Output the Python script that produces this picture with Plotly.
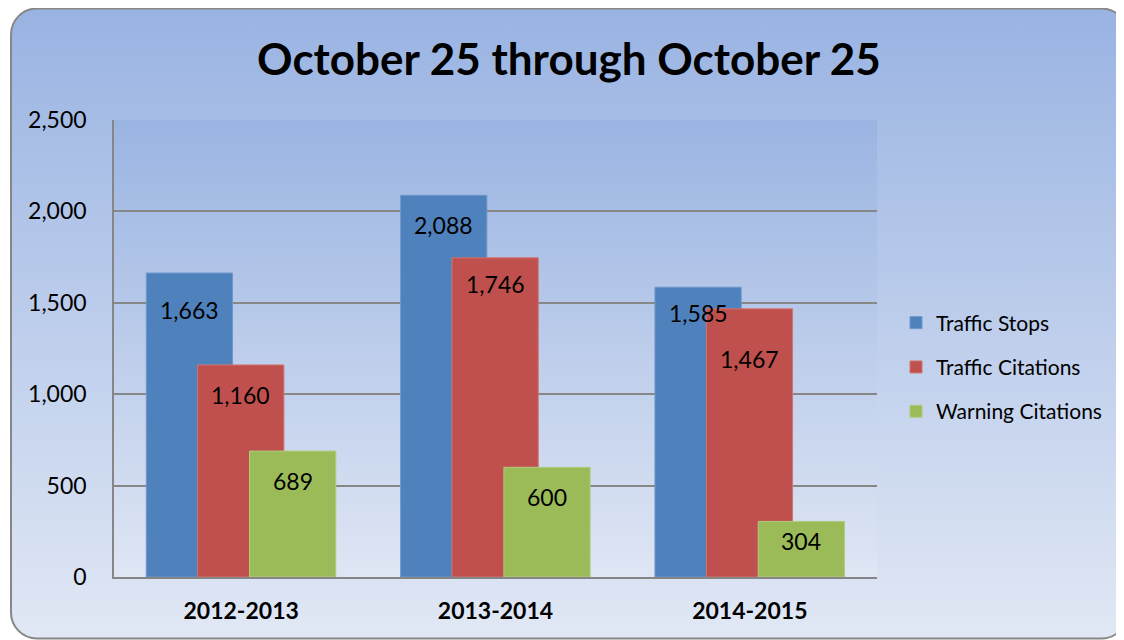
import base64
import plotly.graph_objects as go

# ---- data ----
categories = ["2012-2013", "2013-2014", "2014-2015"]
series_names = ["Traffic Stops", "Traffic Citations", "Warning Citations"]
traffic_stops = [1663, 2088, 1585]
traffic_citations = [1160, 1746, 1467]
warning_citations = [689, 600, 304]
y_ticks = [0, 500, 1000, 1500, 2000, 2500]
title_text = "October 25 through October 25"

# ---- style ----
colors = ["#4F81BD", "#C0504D", "#9BBB59"]
edge_colors = ["#6E97CB", "#D07471", "#B1CB7E"]
bar_width = 0.339
bar_offsets = [-0.373, -0.171, 0.033]
label_drop = [[37, 30, 26], [30, 26, 50], [30, 30, 20]]  # px below bar top
FONT = "Lato, 'Open Sans', sans-serif"

# page body has an 8px margin, so the figure is 8px smaller than the window
W, H = 1116, 632
L, R, T, B = 106, 247, 112, 63
pw, ph = W - L - R, H - T - B

outer_svg = f'''<svg xmlns="http://www.w3.org/2000/svg" width="{W}" height="{H}" viewBox="0 0 {W} {H}" preserveAspectRatio="none">
<defs><linearGradient id="g" x1="0" y1="0" x2="0" y2="1">
<stop offset="0" stop-color="#99B3E2"/><stop offset="1" stop-color="#E1E8F5"/></linearGradient></defs>
<rect x="3" y="0.5" width="1116.5" height="630" rx="26" ry="26" fill="url(#g)" stroke="#878787" stroke-width="2"/>
</svg>'''
plot_svg = '''<svg xmlns="http://www.w3.org/2000/svg" width="763" height="457" viewBox="0 0 763 457" preserveAspectRatio="none">
<defs><linearGradient id="p" x1="0" y1="0" x2="0" y2="1">
<stop offset="0" stop-color="#9AB4E2"/><stop offset="1" stop-color="#DFE6F4"/></linearGradient></defs>
<rect x="0" y="0" width="763" height="457" fill="url(#p)"/>
</svg>'''


def uri(svg):
    return "data:image/svg+xml;base64," + base64.b64encode(svg.encode()).decode()


series = [traffic_stops, traffic_citations, warning_citations]
xs = list(range(len(categories)))

fig = go.Figure()
for k, (name, vals) in enumerate(zip(series_names, series)):
    fig.add_trace(go.Bar(
        x=xs, y=vals, name=name,
        width=bar_width, offset=bar_offsets[k],
        marker=dict(color=colors[k], line=dict(color=edge_colors[k], width=1)),
        legendgroup=name,
    ))

annotations = []
for k, vals in enumerate(series):
    for i, v in enumerate(vals):
        annotations.append(dict(
            x=xs[i] + bar_offsets[k] + bar_width / 2, y=v,
            xref="x", yref="y", text=f"{v:,}", showarrow=False,
            yanchor="middle", xanchor="center", yshift=-label_drop[k][i],
            font=dict(family=FONT, size=23, color="black"),
        ))

fig.update_layout(
    width=W, height=H,
    margin=dict(l=L, r=R, t=T, b=B, pad=0),
    paper_bgcolor="white", plot_bgcolor="rgba(0,0,0,0)",
    barmode="overlay",
    title=dict(text=f"<b>{title_text}</b>", x=561 / W, xanchor="center",
               y=1 - 52 / H, yanchor="middle",
               font=dict(family=FONT, size=44, color="black")),
    font=dict(family=FONT, color="black"),
    xaxis=dict(range=[-0.5, 2.5], tickvals=xs, ticktext=[f"<b>{c}</b>" for c in categories],
               showgrid=False, zeroline=False, showline=True, linecolor="#868686", linewidth=2,
               ticks="", tickfont=dict(family=FONT, size=23, color="black"), ticklabelstandoff=12,
               fixedrange=True),
    yaxis=dict(range=[0, 2500], tickvals=y_ticks, ticktext=[f"{t:,}" for t in y_ticks],
               showgrid=True, gridcolor="#878787", gridwidth=1.5, zeroline=False,
               showline=True, linecolor="#868686", linewidth=1.5, ticks="",
               tickfont=dict(family=FONT, size=23, color="black"), ticklabelstandoff=21,
               fixedrange=True),
    legend=dict(x=(888 - L) / pw, xanchor="left", y=(569 - 359) / ph, yanchor="middle",
                font=dict(family=FONT, size=21, color="black"), bgcolor="rgba(0,0,0,0)",
                tracegroupgap=14, traceorder="grouped"),
    annotations=annotations,
    images=[
        dict(source=uri(outer_svg), xref="paper", yref="paper",
             x=-L / pw, y=1 + T / ph, sizex=W / pw, sizey=H / ph,
             sizing="stretch", layer="below", xanchor="left", yanchor="top"),
        dict(source=uri(plot_svg), xref="paper", yref="paper",
             x=0, y=1, sizex=1, sizey=1,
             sizing="stretch", layer="below", xanchor="left", yanchor="top"),
    ],
)

fig.write_html("out.html")
